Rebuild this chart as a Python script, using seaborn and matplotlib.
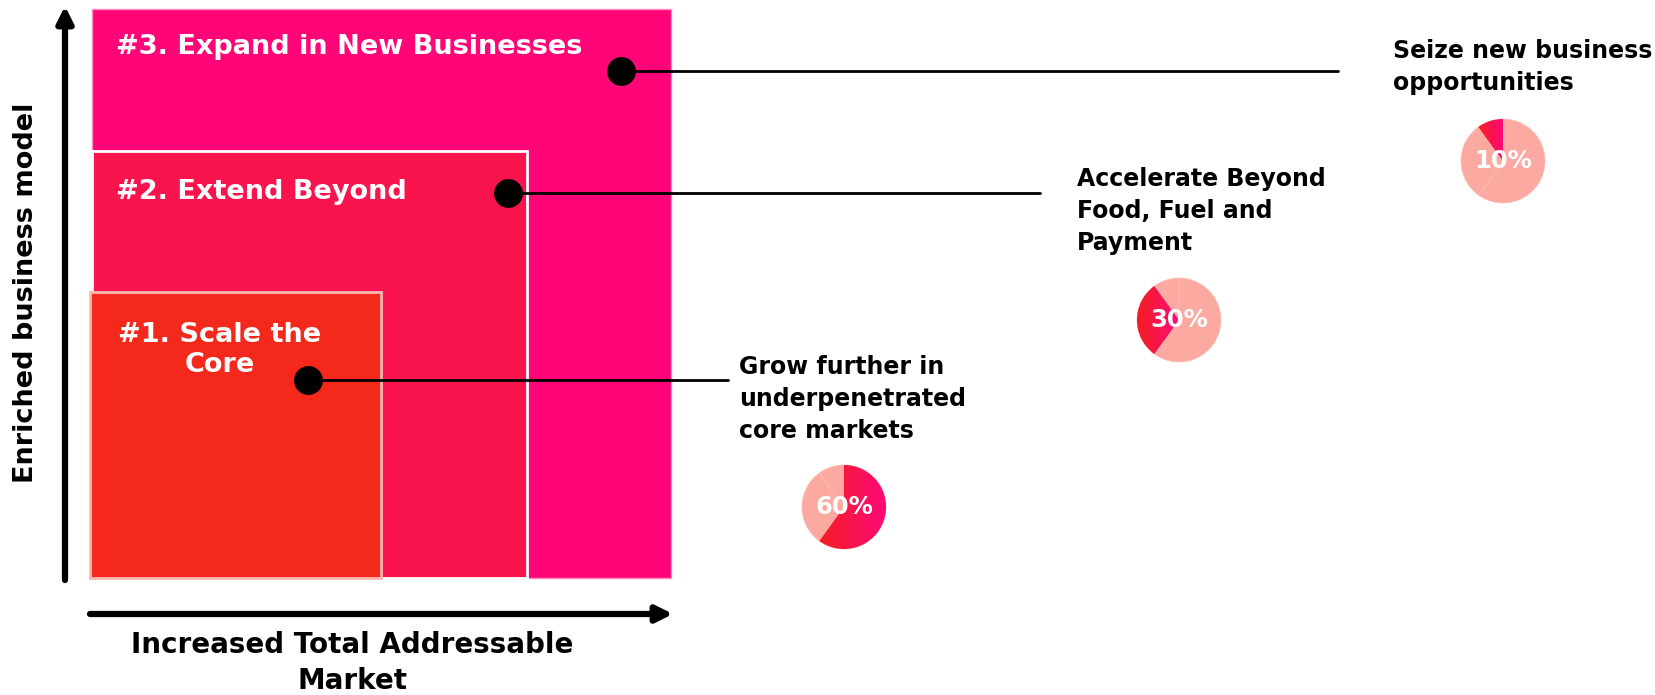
import numpy as np
import matplotlib
matplotlib.use("Agg")
import matplotlib.pyplot as plt
from matplotlib.patches import Rectangle
import seaborn as sns
import pandas as pd

# ---------------- data ----------------
stage_labels = ["#1. Scale the\nCore", "#2. Extend Beyond", "#3. Expand in New Businesses"]
stage_descriptions = ["Grow further in\nunderpenetrated\ncore markets",
                      "Accelerate Beyond\nFood, Fuel and\nPayment",
                      "Seize new business\nopportunities"]
stage_shares = [60, 30, 10]
x_axis_label = "Increased Total Addressable\nMarket"
y_axis_label = "Enriched business model"

# ---------------- style ----------------
sns.set_theme(style="white")
plt.rcParams['font.family'] = ['DejaVu Sans']

W, H = 1655, 695
fig = plt.figure(figsize=(W / 100, H / 100), dpi=100)
ax = fig.add_axes([0, 0, 1, 1])
ax.set_axis_off()

def Y(y):
    return H - y

rect_colors = ["#F5281C", "#FA144E", "#FF0577"]
rect_edges = ["#FBB8B0", "#FFFFFF", "#FF8CC0"]
rect_lw = [2, 2, 1]
rects = [(90, 381, 292), (92, 527, 151), (92, 671, 9)]
bottom = 578
for i in [2, 1, 0]:
    x0, x1, yt = rects[i]
    ax.add_patch(Rectangle((x0, Y(bottom)), x1 - x0, bottom - yt,
                           facecolor=rect_colors[i], edgecolor=rect_edges[i], lw=rect_lw[i],
                           zorder=1 + (2 - i)))

# rect labels
lab_font = dict(color="white", fontweight="bold", fontsize=19.5, zorder=10)
ax.text(220, Y(350), stage_labels[0], ha="center", va="center", linespacing=1.15, **lab_font)
ax.text(116, Y(192), stage_labels[1], ha="left", va="center", **lab_font)
ax.text(116, Y(47), stage_labels[2], ha="left", va="center", **lab_font)

# connector dots and lines
dots_x = [308, 508, 621]
dots_y = [380, 193, 71]
line_end = [728, 1040, 1338]
for i in range(3):
    ax.plot([dots_x[i], line_end[i]], [Y(dots_y[i])] * 2, color="black", lw=2, zorder=11)
dots = pd.DataFrame({"x": dots_x, "y": [Y(v) for v in dots_y]})
sns.scatterplot(data=dots, x="x", y="y", ax=ax, s=370, color="black", edgecolor="black",
                zorder=12, legend=False)

# descriptions
desc_pos = [(739, 399), (1077, 211), (1393, 67)]
for (tx, ty), d in zip(desc_pos, stage_descriptions):
    ax.text(tx, Y(ty), d, ha="left", va="center", fontsize=17, fontweight="bold",
            color="black", linespacing=1.42, zorder=10)

# pies
pie_centers = [(844, 507), (1179, 320), (1503, 161)]
pie_r = 42
light = "#FCA9A1"
grad_cmap = matplotlib.colors.LinearSegmentedColormap.from_list("g", ["#F41F22", "#FF0A78"])
for k, (cx, cy) in enumerate(pie_centers):
    cols = [light] * 3
    wedges, _ = ax.pie(stage_shares, colors=cols, startangle=90, counterclock=False,
                       center=(cx, Y(cy)), radius=pie_r,
                       wedgeprops=dict(edgecolor="#FDBDB6", linewidth=0.5), frame=True)
    w = wedges[k]
    th = np.radians(np.linspace(w.theta1, w.theta2, 200))
    xs = np.concatenate([[cx], cx + pie_r * np.cos(th)])
    x_lo, x_hi = xs.min(), xs.max()
    grad = np.linspace(0, 1, 100).reshape(1, -1)
    im = ax.imshow(grad, extent=[x_lo, x_hi, Y(cy) - pie_r, Y(cy) + pie_r],
                   cmap=grad_cmap, aspect="auto", zorder=w.get_zorder() + 0.1,
                   interpolation="bilinear")
    im.set_clip_path(w)
    ax.text(cx, Y(cy), f"{stage_shares[k]}%", ha="center", va="center", color="white",
            fontsize=17.5, fontweight="bold", zorder=20)

# axes arrows
ax.annotate("", xy=(65, Y(6)), xytext=(65, Y(580)),
            arrowprops=dict(arrowstyle="-|>,head_length=0.8,head_width=0.4", lw=4.5, color="black",
                            shrinkA=0, shrinkB=0), zorder=15)
ax.annotate("", xy=(673, Y(614)), xytext=(90, Y(614)),
            arrowprops=dict(arrowstyle="-|>,head_length=0.8,head_width=0.4", lw=4.5, color="black",
                            shrinkA=0, shrinkB=0), zorder=15)
ax.text(352, Y(663), x_axis_label, ha="center", va="center", fontsize=20, fontweight="bold",
        linespacing=1.35, color="black")
ax.text(26, Y(293), y_axis_label, ha="center", va="center", rotation=90, fontsize=19.5,
        fontweight="bold", color="black")

ax.set_xlim(0, W)
ax.set_ylim(0, H)
ax.set_aspect("auto")
ax.set_axis_off()

fig.savefig("out.png", dpi=100, facecolor="white")
